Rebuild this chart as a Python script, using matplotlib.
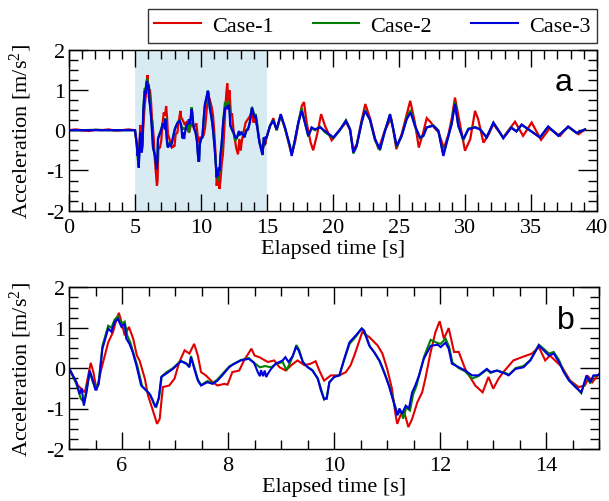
import matplotlib
matplotlib.use("Agg")
import matplotlib.pyplot as plt
from matplotlib.ticker import MultipleLocator

plt.rcParams['font.family'] = ['Liberation Serif', 'DejaVu Serif']
plt.rcParams['mathtext.fontset'] = 'custom'
plt.rcParams['mathtext.rm'] = 'Liberation Serif'
plt.rcParams['mathtext.it'] = 'Liberation Serif:italic'
plt.rcParams['axes.unicode_minus'] = False

labels = ["Case-1", "Case-2", "Case-3"]
colors = ["#e00000", "#008000", "#0000dd"]

# ---- Case-1 (red) ----
t_case1 = [0, 0.5, 1.0, 1.5, 2.0, 2.5, 3.0, 3.5, 4.0, 4.5, 4.95,
           5.0, 5.17, 5.3, 5.41, 5.46, 5.52, 5.61, 5.74, 5.83, 5.89, 5.94, 5.99, 6.05, 6.13, 6.21,
           6.28, 6.33, 6.43, 6.49, 6.57, 6.66, 6.71, 6.77, 6.89, 6.99, 7.08, 7.18, 7.27, 7.36,
           7.43, 7.49, 7.58, 7.71, 7.8, 7.93, 7.99, 8.08, 8.21, 8.3, 8.44, 8.5, 8.59, 8.75,
           8.87, 8.97, 9.09, 9.19, 9.31, 9.44, 9.56, 9.65, 9.72, 9.81, 9.94, 10.1, 10.22, 10.31,
           10.38, 10.53, 10.66, 10.82, 10.91, 11.0, 11.09, 11.16, 11.19, 11.25, 11.32, 11.4,
           11.47, 11.57, 11.66, 11.72, 11.82, 11.91, 11.99, 12.07, 12.16, 12.26, 12.35, 12.47,
           12.66, 12.8, 12.91, 13.0, 13.1, 13.19, 13.38, 13.54, 13.73, 13.86, 13.98, 14.07,
           14.3, 14.45, 14.61, 14.73, 14.8, 14.87, 14.97,
           15.23, 15.48, 15.73, 16.04, 16.36, 16.74, 16.87, 17.12, 17.37, 17.63, 17.8, 18.0,
           18.3, 18.5, 18.8, 19.1, 19.4, 19.9, 20.5, 21.0, 21.3, 21.54, 21.8, 22.17, 22.45,
           22.8, 23.18, 23.45, 23.94, 24.4, 24.57, 24.8, 25.2, 25.55, 25.85, 26.2, 26.5, 26.8,
           27.1, 27.4, 27.7, 28.0, 28.4, 28.75, 29.0, 29.24, 29.5, 30.0, 30.4, 30.76, 31.0,
           31.4, 31.8, 32.15, 32.9, 33.3, 33.79, 34.4, 35.05, 35.76, 36.4, 37.2, 37.8, 38.6, 39.1]
a_case1 = [0, 0.02, 0, -0.02, 0.01, 0, 0.02, -0.01, 0, 0.02, 0,
           0, -0.43, -0.6, 0.13, -0.1, -0.55, -0.02, 0.64, 0.89, 1.18, 1.37, 1.14, 0.81, 1.02, 0.73,
           0.31, 0.19, -0.26, -0.68, -1.0, -1.38, -1.26, -0.47, -0.43, -0.26, 0.15, 0.44, 0.36, 0.6,
           0.31, -0.1, -0.18, -0.35, -0.43, -0.39, -0.41, -0.1, -0.06, 0.19, 0.48, 0.31, 0.27, 0.15,
           0.19, 0.02, -0.06, 0.07, 0.19, 0.07, 0.11, 0.17, -0.06, -0.31, -0.18, -0.18, -0.1, 0.07,
           0.31, 0.89, 0.77, 0.56, 0.36, -0.02, -0.51, -1.17, -1.38, -1.17, -1.09, -1.46,
           -1.26, -0.84, -0.6, -0.26, 0.4, 0.89, 1.16, 0.73, 0.99, 0.4, 0.4, -0.02,
           -0.43, -0.6, -0.22, -0.51, -0.26, -0.1, 0.19, 0.27, 0.36, 0.52, 0.19, 0.31,
           0.02, -0.31, -0.47, -0.43, -0.22, -0.35, -0.18,
           0.1, 0.3, 0.0, 0.35, 0.05, -0.45, -0.6, -0.3, 0.15, 0.6, 0.7, 0.2,
           -0.3, -0.5, -0.1, 0.4, 0.1, -0.25, 0.0, 0.2, 0.0, -0.5, -0.35, 0.25, 0.65,
           0.3, -0.2, -0.47, 0.0, 0.3, 0.0, -0.47, -0.1, 0.35, 0.73, 0.2, -0.43, -0.1,
           0.3, 0.2, 0.05, -0.05, -0.45, -0.1, 0.3, 0.81, 0.36, -0.51, -0.22, 0.48, 0.27,
           -0.31, -0.1, 0.15, -0.18, 0.0, 0.21, -0.14, 0.19, -0.24, 0.04, -0.14, 0.09, -0.1, 0.02]

# ---- Case-2 (green) ----
t_case2 = [0, 1.0, 2.0, 3.0, 4.0, 4.95,
           5.0, 5.14, 5.22, 5.28, 5.33, 5.39, 5.45, 5.5, 5.56, 5.63, 5.74, 5.8, 5.86, 5.92, 5.99,
           6.05, 6.1, 6.16, 6.22, 6.29, 6.38, 6.46, 6.54, 6.6, 6.65, 6.7, 6.75, 6.84, 6.96, 7.11,
           7.21, 7.27, 7.3, 7.38, 7.43, 7.49, 7.61, 7.71, 7.8, 7.89, 8.02, 8.1, 8.24, 8.39, 8.5,
           8.6, 8.7, 8.81, 8.9, 9.03, 9.1, 9.16, 9.22, 9.29, 9.34, 9.41, 9.5, 9.59, 9.69, 9.75,
           9.81, 9.86, 9.91, 10.0, 10.1, 10.19, 10.29, 10.41, 10.52, 10.57, 10.68, 10.77, 10.87,
           10.96, 11.05, 11.14, 11.2, 11.25, 11.3, 11.36, 11.43, 11.49, 11.55, 11.62, 11.7, 11.82,
           11.95, 12.01, 12.1, 12.17, 12.23, 12.35, 12.47, 12.6, 12.72, 12.8, 12.88, 12.95, 13.07,
           13.23, 13.3, 13.42, 13.57, 13.7, 13.86, 13.95, 14.05, 14.14, 14.24, 14.33, 14.43,
           14.55, 14.66, 14.76, 14.83, 14.89, 14.97,
           15.23, 15.48, 15.73, 16.04, 16.36, 16.74, 16.87, 17.12, 17.37, 17.63, 17.8, 18.13,
           18.38, 18.64, 19.02, 19.39, 20.03, 20.53, 20.98, 21.29, 21.54, 21.79, 22.17, 22.42,
           22.8, 23.18, 23.56, 23.94, 24.32, 24.57, 24.82, 25.2, 25.58, 25.88, 26.21, 26.59,
           26.84, 27.1, 27.6, 27.98, 28.36, 28.74, 28.99, 29.24, 29.49, 29.87, 30.25, 30.76,
           31.14, 31.64, 32.15, 32.53, 32.9, 33.5, 33.9, 34.29, 34.9, 35.68, 36.3, 37.07,
           37.83, 38.46, 39.09]
a_case2 = [0, 0, 0.01, 0, 0, 0,
           0, -0.4, -0.75, -0.85, -0.55, -0.1, -0.35, -0.5, -0.35, 0.55, 1.05, 1.0, 1.2, 1.28, 1.1,
           1.15, 0.8, 0.62, 0.35, 0.05, -0.45, -0.55, -0.68, -0.88, -0.95, -0.72, -0.2, -0.1, 0.0, 0.18,
           0.12, 0.05, 0.3, -0.05, -0.28, -0.42, -0.32, -0.37, -0.28, -0.15, 0.04, 0.1, 0.2, 0.25, 0.12,
           0.02, 0.05, 0.02, 0.1, 0.15, -0.05, 0.1, 0.3, 0.57, 0.45, 0.15, 0.03, -0.05, -0.25, -0.5,
           -0.78, -0.72, -0.35, -0.22, -0.17, 0.2, 0.6, 0.78, 0.98, 0.92, 0.52, 0.37, 0.15,
           -0.15, -0.48, -0.9, -1.15, -1.05, -1.25, -0.98, -1.05, -0.65, -0.45, -0.1, 0.3, 0.7,
           0.62, 0.6, 0.73, 0.52, 0.14, 0.0, -0.08, -0.26, -0.2, -0.12, -0.04, -0.12, -0.06,
           -0.12, -0.16, 0.0, 0.05, 0.2, 0.58, 0.48, 0.36, 0.4, 0.2, -0.08, -0.3,
           -0.45, -0.62, -0.2, -0.38, -0.2, -0.18,
           0.12, 0.25, 0.0, 0.38, 0.05, -0.42, -0.6, -0.25, 0.18, 0.55, 0.3, -0.16,
           0.05, 0.0, 0.09, -0.05, -0.2, 0.0, 0.25, 0.03, -0.58, -0.4, 0.2, 0.5,
           0.25, -0.25, -0.5, 0.0, 0.38, 0.02, -0.42, -0.15, 0.3, 0.5, 0.1, -0.2,
           -0.15, 0.07, 0.12, 0.0, -0.6, -0.15, 0.17, 0.7, 0.12, -0.25, 0.04, 0.08,
           0.02, -0.17, 0.18, 0.0, -0.19, 0.07, -0.03, 0.13, 0.0, -0.18, 0.09, -0.13,
           0.08, -0.07, 0.02]

# ---- Case-3 (blue) ----
t_case3 = [0, 1.0, 2.0, 3.0, 4.0, 4.95,
           5.0, 5.14, 5.2, 5.24, 5.28, 5.33, 5.39, 5.45, 5.5, 5.56, 5.63, 5.74, 5.8, 5.86, 5.92,
           5.99, 6.05, 6.08, 6.14, 6.2, 6.27, 6.36, 6.45, 6.52, 6.58, 6.63, 6.69, 6.74, 6.83, 6.96,
           7.11, 7.21, 7.27, 7.3, 7.38, 7.43, 7.49, 7.61, 7.71, 7.8, 7.89, 8.02, 8.08, 8.24, 8.39,
           8.49, 8.53, 8.56, 8.6, 8.62, 8.66, 8.69, 8.72, 8.75, 8.81, 8.9, 9.03, 9.08, 9.14, 9.22,
           9.28, 9.33, 9.41, 9.5, 9.59, 9.69, 9.75, 9.81, 9.86, 9.91, 10.0, 10.1, 10.19, 10.29,
           10.41, 10.52, 10.56, 10.66, 10.75, 10.85, 10.94, 11.03, 11.13, 11.19, 11.23, 11.28,
           11.35, 11.41, 11.47, 11.53, 11.6, 11.69, 11.82, 11.95, 12.01, 12.1, 12.16, 12.22, 12.35,
           12.47, 12.6, 12.72, 12.8, 12.88, 12.95, 13.07, 13.23, 13.29, 13.42, 13.57, 13.7, 13.86,
           13.95, 14.05, 14.14, 14.24, 14.33, 14.43, 14.55, 14.66, 14.76, 14.83, 14.89, 14.97,
           15.23, 15.48, 15.73, 16.04, 16.36, 16.74, 16.87, 17.12, 17.37, 17.63, 17.8, 18.13,
           18.38, 18.64, 19.02, 19.39, 20.03, 20.53, 20.98, 21.29, 21.54, 21.79, 22.17, 22.42,
           22.8, 23.18, 23.56, 23.94, 24.32, 24.57, 24.82, 25.2, 25.58, 25.88, 26.21, 26.59,
           26.84, 27.1, 27.6, 27.98, 28.36, 28.74, 28.99, 29.24, 29.49, 29.87, 30.25, 30.76,
           31.14, 31.64, 32.15, 32.53, 32.9, 33.5, 33.9, 34.29, 34.9, 35.68, 36.3, 37.07,
           37.83, 38.46, 39.09]
a_case3 = [0, 0, 0, 0, 0, 0,
           0, -0.35, -0.64, -0.5, -0.93, -0.6, -0.06, -0.3, -0.55, -0.4, 0.48, 0.98, 0.9, 1.14, 1.22,
           1.02, 1.1, 0.73, 0.6, 0.4, 0.07, -0.43, -0.55, -0.64, -0.8, -0.97, -0.76, -0.22, -0.14, -0.02,
           0.17, 0.11, 0.02, 0.27, -0.1, -0.31, -0.43, -0.35, -0.39, -0.31, -0.18, 0.02, 0.08, 0.19, 0.23,
           0.13, 0.0, -0.1, -0.2, -0.05, -0.2, -0.06, -0.22, -0.14, -0.02, 0.11, 0.19, 0.27, 0.15, 0.3,
           0.52, 0.44, 0.15, 0.02, -0.06, -0.26, -0.55, -0.76, -0.76, -0.35, -0.22, -0.18, 0.23, 0.64,
           0.81, 0.98, 0.93, 0.56, 0.4, 0.19, -0.1, -0.43, -0.88, -1.17, -1.0, -1.13,
           -0.93, -1.0, -0.6, -0.43, -0.18, 0.23, 0.55, 0.58, 0.52, 0.63, 0.48, 0.11, 0.02,
           -0.06, -0.18, -0.18, -0.1, -0.02, -0.1, -0.06, -0.14, -0.18, -0.02, 0.02, 0.19, 0.56,
           0.44, 0.31, 0.36, 0.15, -0.1, -0.31, -0.47, -0.6, -0.18, -0.35, -0.18, -0.18,
           0.11, 0.23, 0.02, 0.4, 0.07, -0.39, -0.64, -0.22, 0.19, 0.48, 0.27, -0.14,
           0.07, 0.02, 0.07, -0.02, -0.18, 0.02, 0.23, 0.02, -0.55, -0.39, 0.19, 0.48,
           0.27, -0.22, -0.47, -0.02, 0.4, 0.02, -0.39, -0.14, 0.27, 0.44, 0.11, -0.18,
           -0.14, 0.07, 0.11, -0.02, -0.64, -0.14, 0.15, 0.65, 0.11, -0.22, 0.02, 0.07,
           0.02, -0.18, 0.19, 0.0, -0.2, 0.06, -0.03, 0.14, 0.0, -0.18, 0.09, -0.14,
           0.09, -0.07, 0.02]

series = [(t_case1, a_case1), (t_case2, a_case2), (t_case3, a_case3)]

W, H = 609, 502
fig = plt.figure(figsize=(W / 100, H / 100), dpi=100)
ax_a = fig.add_axes([69 / W, 1 - 211.7 / H, 528 / W, 161 / H])
ax_b = fig.add_axes([69 / W, 1 - 449.9 / H, 530.3 / W, 161.6 / H])

FS = 16
for ax, lw in ((ax_a, 1.6), (ax_b, 1.5)):
    for (t, a), c, lab in zip(series, colors, labels):
        ax.plot(t, a, color=c, lw=lw, label=lab, solid_joinstyle='miter')
    ax.set_ylim(-2, 2)
    ax.yaxis.set_major_locator(MultipleLocator(1))
    ax.yaxis.set_minor_locator(MultipleLocator(0.25))
    ax.tick_params(which='both', direction='in', top=True, right=True, width=1.0, labelsize=FS)
    ax.tick_params(axis='x', which='major', length=12, pad=5)
    ax.tick_params(axis='y', which='major', length=13.5, pad=3)
    ax.tick_params(which='minor', length=6.5)
    for s in ax.spines.values():
        s.set_linewidth(1.0)
    ax.set_xlabel("Elapsed time [s]", fontsize=FS)
    ax.set_ylabel("Acceleration [m/s$^2$]", fontsize=FS)
    ax.yaxis.set_label_coords(-0.066, 0.5)

ax_a.axvspan(5, 15, color='#d9ebf2', zorder=0, lw=0)
ax_a.set_xlim(0, 40)
ax_a.xaxis.set_major_locator(MultipleLocator(5))
ax_a.xaxis.set_minor_locator(MultipleLocator(1))
ax_a.xaxis.set_label_coords(0.5, -0.175)

ax_b.set_xlim(5, 15)
ax_b.xaxis.set_major_locator(MultipleLocator(2))
ax_b.xaxis.set_minor_locator(MultipleLocator(0.5))
ax_b.xaxis.set_label_coords(0.5, -0.175)

ax_a.text(0.953, 0.75, "a", transform=ax_a.transAxes, ha='right', va='baseline',
          fontsize=23, family='Liberation Sans')
ax_b.text(0.953, 0.75, "b", transform=ax_b.transAxes, ha='right', va='baseline',
          fontsize=23, family='Liberation Sans')

handles, labs = ax_a.get_legend_handles_labels()
leg = fig.legend(handles, labs, loc='upper right', bbox_to_anchor=(597 / W, 1 - 10 / H),
                 ncol=3, frameon=True, fancybox=False, edgecolor='black', fontsize=FS,
                 handlelength=2.1, handletextpad=0.5, columnspacing=1.75,
                 borderpad=0.3, borderaxespad=0)
leg.get_frame().set_linewidth(1.0)
for ln in leg.get_lines():
    ln.set_linewidth(1.5)

fig.savefig("out.png", dpi=100)
